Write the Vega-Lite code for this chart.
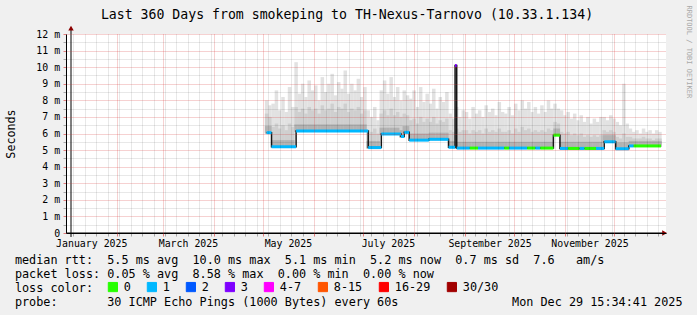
{
  "$schema": "https://vega.github.io/schema/vega-lite/v6.json",
  "width": 600,
  "height": 199,
  "autosize": "none",
  "padding": {"left": 66, "top": 34, "right": 31, "bottom": 82},
  "background": "#f0f0f0",
  "config": {"view": {"fill": "#ffffff", "stroke": null}, "font": "DejaVu Sans Mono", "axis": {"labelOverlap": false}},
  "title": {
    "text": "Last 360 Days from smokeping to TH-Nexus-Tarnovo (10.33.1.134)",
    "font": "DejaVu Sans Mono", "fontSize": 13.2, "fontWeight": "normal", "color": "#000000",
    "anchor": "middle", "frame": "group", "dx": -19, "dy": 13.2, "baseline": "alphabetic", "offset": -13.7
  },
  "datasets": {
    "smoke": [
      {"d":"2025-05-03","lo":6.0,"dk":6.45,"hi":7.2,"mx":8.0},
      {"d":"2025-05-05","lo":6.0,"dk":6.45,"hi":7.0,"mx":7.7},
      {"d":"2025-05-07","lo":5.15,"dk":5.6,"hi":6.4,"mx":7.8},
      {"d":"2025-05-09","lo":5.15,"dk":5.6,"hi":6.6,"mx":8.6},
      {"d":"2025-05-11","lo":5.15,"dk":5.6,"hi":6.3,"mx":7.4},
      {"d":"2025-05-13","lo":5.15,"dk":5.6,"hi":6.5,"mx":8.2},
      {"d":"2025-05-15","lo":5.15,"dk":5.6,"hi":6.2,"mx":7.3},
      {"d":"2025-05-17","lo":5.15,"dk":5.6,"hi":6.6,"mx":8.8},
      {"d":"2025-05-19","lo":5.15,"dk":5.6,"hi":6.4,"mx":7.6},
      {"d":"2025-05-21","lo":6.1,"dk":6.55,"hi":7.6,"mx":10.3},
      {"d":"2025-05-23","lo":6.1,"dk":6.55,"hi":7.3,"mx":8.4},
      {"d":"2025-05-25","lo":6.1,"dk":6.55,"hi":7.5,"mx":9.0},
      {"d":"2025-05-27","lo":6.1,"dk":6.55,"hi":7.2,"mx":8.2},
      {"d":"2025-05-29","lo":6.1,"dk":6.55,"hi":7.6,"mx":9.2},
      {"d":"2025-05-31","lo":6.1,"dk":6.55,"hi":7.4,"mx":8.6},
      {"d":"2025-06-02","lo":6.1,"dk":6.55,"hi":7.5,"mx":8.9},
      {"d":"2025-06-04","lo":6.1,"dk":6.55,"hi":7.2,"mx":8.0},
      {"d":"2025-06-06","lo":6.1,"dk":6.55,"hi":7.7,"mx":9.4},
      {"d":"2025-06-08","lo":6.1,"dk":6.55,"hi":7.4,"mx":8.5},
      {"d":"2025-06-10","lo":6.1,"dk":6.55,"hi":7.5,"mx":9.0},
      {"d":"2025-06-12","lo":6.1,"dk":6.55,"hi":7.8,"mx":9.6},
      {"d":"2025-06-14","lo":6.1,"dk":6.55,"hi":7.3,"mx":8.3},
      {"d":"2025-06-16","lo":6.1,"dk":6.55,"hi":7.6,"mx":9.1},
      {"d":"2025-06-18","lo":6.1,"dk":6.55,"hi":7.5,"mx":8.7},
      {"d":"2025-06-20","lo":6.1,"dk":6.55,"hi":7.8,"mx":9.8},
      {"d":"2025-06-22","lo":6.1,"dk":6.55,"hi":7.3,"mx":8.4},
      {"d":"2025-06-24","lo":6.1,"dk":6.55,"hi":7.5,"mx":9.0},
      {"d":"2025-06-26","lo":6.1,"dk":6.55,"hi":7.4,"mx":8.6},
      {"d":"2025-06-28","lo":6.1,"dk":6.55,"hi":7.6,"mx":9.3},
      {"d":"2025-06-30","lo":6.1,"dk":6.55,"hi":7.2,"mx":8.2},
      {"d":"2025-07-02","lo":6.1,"dk":6.55,"hi":7.4,"mx":8.8},
      {"d":"2025-07-04","lo":5.1,"dk":5.55,"hi":6.2,"mx":7.4},
      {"d":"2025-07-06","lo":5.1,"dk":5.55,"hi":6.1,"mx":7.0},
      {"d":"2025-07-08","lo":5.1,"dk":5.55,"hi":6.3,"mx":7.6},
      {"d":"2025-07-10","lo":5.1,"dk":5.55,"hi":6.0,"mx":6.8},
      {"d":"2025-07-12","lo":5.92,"dk":6.35,"hi":7.2,"mx":8.6},
      {"d":"2025-07-14","lo":5.92,"dk":6.35,"hi":7.4,"mx":9.2},
      {"d":"2025-07-16","lo":5.92,"dk":6.35,"hi":7.1,"mx":8.4},
      {"d":"2025-07-18","lo":5.92,"dk":6.35,"hi":7.5,"mx":9.4},
      {"d":"2025-07-20","lo":5.92,"dk":6.35,"hi":7.1,"mx":8.2},
      {"d":"2025-07-22","lo":5.92,"dk":6.35,"hi":7.3,"mx":8.8},
      {"d":"2025-07-24","lo":5.77,"dk":6.2,"hi":7.0,"mx":8.0},
      {"d":"2025-07-26","lo":6.02,"dk":6.45,"hi":7.2,"mx":8.6},
      {"d":"2025-07-28","lo":6.02,"dk":6.45,"hi":7.1,"mx":8.3},
      {"d":"2025-07-30","lo":5.55,"dk":6.0,"hi":6.8,"mx":8.1},
      {"d":"2025-08-01","lo":5.55,"dk":6.0,"hi":6.9,"mx":8.6},
      {"d":"2025-08-03","lo":5.55,"dk":6.0,"hi":6.6,"mx":7.6},
      {"d":"2025-08-05","lo":5.55,"dk":6.0,"hi":7.0,"mx":8.8},
      {"d":"2025-08-07","lo":5.55,"dk":6.0,"hi":6.7,"mx":7.9},
      {"d":"2025-08-09","lo":5.55,"dk":6.0,"hi":6.9,"mx":8.4},
      {"d":"2025-08-11","lo":5.6,"dk":6.05,"hi":6.7,"mx":7.8},
      {"d":"2025-08-13","lo":5.6,"dk":6.05,"hi":7.0,"mx":8.7},
      {"d":"2025-08-15","lo":5.6,"dk":6.05,"hi":6.6,"mx":7.5},
      {"d":"2025-08-17","lo":5.6,"dk":6.05,"hi":6.8,"mx":8.2},
      {"d":"2025-08-19","lo":5.6,"dk":6.05,"hi":6.7,"mx":7.9},
      {"d":"2025-08-21","lo":5.6,"dk":6.05,"hi":6.9,"mx":8.5},
      {"d":"2025-08-23","lo":5.12,"dk":5.55,"hi":6.2,"mx":7.2},
      {"d":"2025-08-25","lo":5.12,"dk":5.55,"hi":6.1,"mx":6.9},
      {"d":"2025-08-27","lo":5.07,"dk":5.5,"hi":6.3,"mx":7.6},
      {"d":"2025-08-29","lo":5.07,"dk":5.5,"hi":6.1,"mx":7.0},
      {"d":"2025-08-31","lo":5.07,"dk":5.5,"hi":6.2,"mx":7.4},
      {"d":"2025-09-02","lo":5.07,"dk":5.5,"hi":6.2,"mx":7.3},
      {"d":"2025-09-04","lo":5.07,"dk":5.5,"hi":6.0,"mx":6.9},
      {"d":"2025-09-06","lo":5.07,"dk":5.5,"hi":6.2,"mx":7.6},
      {"d":"2025-09-08","lo":5.07,"dk":5.5,"hi":6.1,"mx":7.2},
      {"d":"2025-09-10","lo":5.07,"dk":5.5,"hi":6.2,"mx":7.4},
      {"d":"2025-09-12","lo":5.07,"dk":5.5,"hi":6.0,"mx":7.0},
      {"d":"2025-09-14","lo":5.07,"dk":5.5,"hi":6.3,"mx":7.7},
      {"d":"2025-09-16","lo":5.07,"dk":5.5,"hi":6.1,"mx":7.3},
      {"d":"2025-09-18","lo":5.07,"dk":5.5,"hi":6.2,"mx":7.5},
      {"d":"2025-09-20","lo":5.07,"dk":5.5,"hi":6.1,"mx":7.1},
      {"d":"2025-09-22","lo":5.07,"dk":5.5,"hi":6.3,"mx":7.9},
      {"d":"2025-09-24","lo":5.07,"dk":5.5,"hi":6.1,"mx":7.3},
      {"d":"2025-09-26","lo":5.07,"dk":5.5,"hi":6.1,"mx":7.2},
      {"d":"2025-09-28","lo":5.07,"dk":5.5,"hi":6.2,"mx":7.6},
      {"d":"2025-09-30","lo":5.07,"dk":5.5,"hi":6.0,"mx":7.1},
      {"d":"2025-10-02","lo":5.07,"dk":5.5,"hi":6.3,"mx":7.8},
      {"d":"2025-10-04","lo":5.07,"dk":5.5,"hi":6.1,"mx":7.4},
      {"d":"2025-10-06","lo":5.07,"dk":5.5,"hi":6.4,"mx":8.0},
      {"d":"2025-10-08","lo":5.07,"dk":5.5,"hi":6.2,"mx":7.5},
      {"d":"2025-10-10","lo":5.07,"dk":5.5,"hi":6.3,"mx":7.9},
      {"d":"2025-10-12","lo":5.07,"dk":5.5,"hi":6.1,"mx":7.3},
      {"d":"2025-10-14","lo":5.07,"dk":5.5,"hi":6.2,"mx":7.6},
      {"d":"2025-10-16","lo":5.07,"dk":5.5,"hi":6.1,"mx":7.2},
      {"d":"2025-10-18","lo":5.07,"dk":5.5,"hi":6.2,"mx":7.7},
      {"d":"2025-10-20","lo":5.07,"dk":5.5,"hi":6.1,"mx":7.3},
      {"d":"2025-10-22","lo":5.07,"dk":5.5,"hi":6.3,"mx":8.0},
      {"d":"2025-10-24","lo":5.07,"dk":5.5,"hi":6.2,"mx":7.5},
      {"d":"2025-10-26","lo":5.85,"dk":6.3,"hi":6.7,"mx":7.8},
      {"d":"2025-10-28","lo":5.85,"dk":6.3,"hi":6.6,"mx":7.5},
      {"d":"2025-10-30","lo":5.05,"dk":5.5,"hi":6.1,"mx":7.4},
      {"d":"2025-11-01","lo":5.05,"dk":5.5,"hi":6.0,"mx":7.1},
      {"d":"2025-11-03","lo":5.05,"dk":5.5,"hi":6.1,"mx":7.3},
      {"d":"2025-11-05","lo":5.05,"dk":5.5,"hi":5.9,"mx":6.9},
      {"d":"2025-11-07","lo":5.05,"dk":5.5,"hi":6.0,"mx":7.2},
      {"d":"2025-11-09","lo":5.05,"dk":5.5,"hi":5.9,"mx":6.8},
      {"d":"2025-11-11","lo":5.05,"dk":5.5,"hi":6.0,"mx":7.1},
      {"d":"2025-11-13","lo":5.05,"dk":5.5,"hi":5.8,"mx":6.7},
      {"d":"2025-11-15","lo":5.05,"dk":5.5,"hi":5.9,"mx":7.0},
      {"d":"2025-11-17","lo":5.05,"dk":5.5,"hi":5.8,"mx":6.6},
      {"d":"2025-11-19","lo":5.05,"dk":5.5,"hi":5.9,"mx":6.9},
      {"d":"2025-11-21","lo":5.05,"dk":5.5,"hi":5.8,"mx":6.7},
      {"d":"2025-11-23","lo":5.05,"dk":5.5,"hi":5.9,"mx":7.0},
      {"d":"2025-11-25","lo":5.45,"dk":5.9,"hi":6.2,"mx":7.0},
      {"d":"2025-11-27","lo":5.45,"dk":5.9,"hi":6.1,"mx":6.8},
      {"d":"2025-11-29","lo":5.45,"dk":5.9,"hi":6.2,"mx":7.1},
      {"d":"2025-12-01","lo":5.45,"dk":5.9,"hi":6.1,"mx":6.9},
      {"d":"2025-12-03","lo":5.03,"dk":5.45,"hi":5.8,"mx":6.7},
      {"d":"2025-12-05","lo":5.03,"dk":5.45,"hi":5.7,"mx":6.5},
      {"d":"2025-12-07","lo":5.03,"dk":5.45,"hi":6.0,"mx":9.0},
      {"d":"2025-12-09","lo":5.03,"dk":5.45,"hi":5.8,"mx":6.6},
      {"d":"2025-12-11","lo":5.2,"dk":5.55,"hi":5.8,"mx":6.3},
      {"d":"2025-12-13","lo":5.2,"dk":5.55,"hi":5.7,"mx":6.1},
      {"d":"2025-12-15","lo":5.2,"dk":5.55,"hi":5.7,"mx":6.2},
      {"d":"2025-12-17","lo":5.2,"dk":5.55,"hi":5.7,"mx":6.0},
      {"d":"2025-12-19","lo":5.2,"dk":5.55,"hi":5.8,"mx":6.3},
      {"d":"2025-12-21","lo":5.2,"dk":5.55,"hi":5.7,"mx":6.1},
      {"d":"2025-12-23","lo":5.2,"dk":5.55,"hi":5.7,"mx":6.2},
      {"d":"2025-12-25","lo":5.2,"dk":5.55,"hi":5.6,"mx":6.0},
      {"d":"2025-12-27","lo":5.2,"dk":5.55,"hi":5.7,"mx":6.2},
      {"d":"2025-12-29","lo":5.2,"dk":5.55,"hi":5.7,"mx":6.1}
    ],
    "segs": [
      {"d":"2025-05-03","e":"2025-05-06","m":6.05,"loss":"1"},
      {"d":"2025-05-06","e":"2025-05-21","m":5.2,"loss":"1"},
      {"d":"2025-05-21","e":"2025-07-04","m":6.15,"loss":"1"},
      {"d":"2025-07-04","e":"2025-07-12","m":5.15,"loss":"1"},
      {"d":"2025-07-12","e":"2025-07-24","m":5.97,"loss":"1"},
      {"d":"2025-07-24","e":"2025-07-26","m":5.82,"loss":"1"},
      {"d":"2025-07-26","e":"2025-07-29","m":6.07,"loss":"1"},
      {"d":"2025-07-29","e":"2025-08-10","m":5.6,"loss":"1"},
      {"d":"2025-08-10","e":"2025-08-22","m":5.65,"loss":"1"},
      {"d":"2025-08-22","e":"2025-08-26","m":5.17,"loss":"1"},
      {"d":"2025-08-26","e":"2025-08-27","m":10.1,"loss":"3"},
      {"d":"2025-08-27","e":"2025-09-04","m":5.12,"loss":"1"},
      {"d":"2025-09-04","e":"2025-09-09","m":5.12,"loss":"0"},
      {"d":"2025-09-09","e":"2025-09-25","m":5.12,"loss":"1"},
      {"d":"2025-09-25","e":"2025-09-28","m":5.12,"loss":"0"},
      {"d":"2025-09-28","e":"2025-10-09","m":5.12,"loss":"1"},
      {"d":"2025-10-09","e":"2025-10-14","m":5.12,"loss":"0"},
      {"d":"2025-10-14","e":"2025-10-17","m":5.12,"loss":"1"},
      {"d":"2025-10-17","e":"2025-10-25","m":5.12,"loss":"0"},
      {"d":"2025-10-25","e":"2025-10-29","m":5.9,"loss":"0"},
      {"d":"2025-10-29","e":"2025-11-03","m":5.1,"loss":"1"},
      {"d":"2025-11-03","e":"2025-11-10","m":5.1,"loss":"0"},
      {"d":"2025-11-10","e":"2025-11-13","m":5.1,"loss":"1"},
      {"d":"2025-11-13","e":"2025-11-20","m":5.1,"loss":"0"},
      {"d":"2025-11-20","e":"2025-11-25","m":5.1,"loss":"1"},
      {"d":"2025-11-25","e":"2025-12-02","m":5.5,"loss":"1"},
      {"d":"2025-12-02","e":"2025-12-10","m":5.08,"loss":"1"},
      {"d":"2025-12-10","e":"2025-12-13","m":5.25,"loss":"1"},
      {"d":"2025-12-13","e":"2025-12-29T15:34:41Z","m":5.25,"loss":"0"}
    ]
  },
  "resolve": {"axis": {"x": "independent", "y": "independent"}},
  "layer": [
    {
      "data": {"name": "smoke"},
      "mark": {"type": "bar", "width": 3.5, "color": "#e2e2e2"},
      "encoding": {
        "x": {
          "field": "d", "type": "temporal",
          "scale": {"type": "utc", "domain": [
            {"year":2025,"month":1,"date":3,"hours":15,"minutes":34,"seconds":41,"utc":true},
            {"year":2025,"month":12,"date":29,"hours":15,"minutes":34,"seconds":41,"utc":true}
          ]},
          "axis": {
            "orient": "bottom", "zindex": 1,
            "values": [
              {"year":2025,"month":1,"date":16,"utc":true},
              {"year":2025,"month":3,"date":16,"utc":true},
              {"year":2025,"month":5,"date":16,"utc":true},
              {"year":2025,"month":7,"date":16,"utc":true},
              {"year":2025,"month":9,"date":16,"utc":true},
              {"year":2025,"month":11,"date":16,"utc":true}
            ],
            "labelExpr": "utcFormat(datum.value, '%B %Y')",
            "labelFont": "DejaVu Sans Mono", "labelFontSize": 9.9, "labelColor": "#000000",
            "labelPadding": 5, "labelFlush": false, "labelOverlap": false, "labelBound": false, "labelAngle": 0,
            "grid": false, "ticks": false,
            "domainColor": "#000000", "domainWidth": 1,
            "title": [
              "median rtt:\u00a0\u00a05.5\u00a0ms\u00a0avg\u00a0\u00a010.0\u00a0ms\u00a0max\u00a0\u00a05.1\u00a0ms\u00a0min\u00a0\u00a05.2\u00a0ms\u00a0now\u00a0\u00a00.7\u00a0ms\u00a0sd\u00a0\u00a07.6\u00a0\u00a0\u00a0am/s",
              "packet\u00a0loss:\u00a00.05\u00a0%\u00a0avg\u00a0\u00a08.58\u00a0%\u00a0max\u00a0\u00a00.00\u00a0%\u00a0min\u00a0\u00a00.00\u00a0%\u00a0now",
              "loss\u00a0color:",
              "probe:\u00a0\u00a0\u00a0\u00a0\u00a0\u00a0\u00a030\u00a0ICMP\u00a0Echo\u00a0Pings\u00a0(1000\u00a0Bytes)\u00a0every\u00a060s\u00a0\u00a0\u00a0\u00a0\u00a0\u00a0\u00a0\u00a0\u00a0\u00a0\u00a0\u00a0\u00a0\u00a0\u00a0\u00a0Mon\u00a0Dec\u00a029\u00a015:34:41\u00a02025"
            ],
            "titleFont": "DejaVu Sans Mono", "titleFontSize": 11.8, "titleFontWeight": "normal", "titleColor": "#000000",
            "titleX": -51.6, "titleY": 30, "titleAlign": "left", "titleBaseline": "alphabetic", "titleLineHeight": 14, "titleLimit": 1000
          }
        },
        "y": {
          "field": "lo", "type": "quantitative",
          "scale": {"domain": [0, 12], "nice": false, "zero": true},
          "axis": {
            "zindex": 1,
            "values": [0,0.5,1,1.5,2,2.5,3,3.5,4,4.5,5,5.5,6,6.5,7,7.5,8,8.5,9,9.5,10,10.5,11,11.5,12],
            "labelExpr": "datum.value % 1 !== 0 ? '' : datum.value === 0 ? '0\u00a0\u00a0' : datum.value + '\u00a0m'",
            "labelFont": "DejaVu Sans Mono", "labelFontSize": 9.9, "labelColor": "#000000", "labelPadding": 3.4,
            "labelOverlap": false, "labelBound": false, "labelFlush": false,
            "grid": true,
            "gridColor": {"condition": {"test": "datum.value % 1 === 0", "value": "rgba(215,50,50,0.45)"}, "value": "rgba(0,0,0,0.18)"},
            "gridDash": [1, 1],
            "tickColor": {"condition": {"test": "datum.value % 1 === 0", "value": "rgba(215,50,50,0.6)"}, "value": "rgba(0,0,0,0.3)"},
            "tickSize": 3,
            "domainColor": "#000000", "domainWidth": 1,
            "title": "Seconds",
            "titleFont": "DejaVu Sans Mono", "titleFontSize": 11.7, "titleFontWeight": "normal", "titleColor": "#000000",
            "titleX": -55.7, "titleY": 99.5, "titleAngle": -90, "titleAlign": "center", "titleBaseline": "middle"
          }
        },
        "y2": {"field": "mx"}
      }
    },
    {
      "data": {"name": "smoke"},
      "mark": {"type": "bar", "width": 3.5, "color": "#cfcfcf"},
      "encoding": {
        "x": {
          "field": "d", "type": "temporal",
          "axis": {
            "orient": "bottom", "zindex": 1, "labels": false, "domain": false, "title": null,
            "values": [
              {"year":2025,"month":1,"date":5,"utc":true},{"year":2025,"month":1,"date":12,"utc":true},{"year":2025,"month":1,"date":19,"utc":true},{"year":2025,"month":1,"date":26,"utc":true},
              {"year":2025,"month":2,"date":1,"utc":true},{"year":2025,"month":2,"date":2,"utc":true},{"year":2025,"month":2,"date":9,"utc":true},{"year":2025,"month":2,"date":16,"utc":true},{"year":2025,"month":2,"date":23,"utc":true},
              {"year":2025,"month":3,"date":1,"utc":true},{"year":2025,"month":3,"date":2,"utc":true},{"year":2025,"month":3,"date":9,"utc":true},{"year":2025,"month":3,"date":16,"utc":true},{"year":2025,"month":3,"date":23,"utc":true},{"year":2025,"month":3,"date":30,"utc":true},
              {"year":2025,"month":4,"date":1,"utc":true},{"year":2025,"month":4,"date":6,"utc":true},{"year":2025,"month":4,"date":13,"utc":true},{"year":2025,"month":4,"date":20,"utc":true},{"year":2025,"month":4,"date":27,"utc":true},
              {"year":2025,"month":5,"date":1,"utc":true},{"year":2025,"month":5,"date":4,"utc":true},{"year":2025,"month":5,"date":11,"utc":true},{"year":2025,"month":5,"date":18,"utc":true},{"year":2025,"month":5,"date":25,"utc":true},
              {"year":2025,"month":6,"date":1,"utc":true},{"year":2025,"month":6,"date":8,"utc":true},{"year":2025,"month":6,"date":15,"utc":true},{"year":2025,"month":6,"date":22,"utc":true},{"year":2025,"month":6,"date":29,"utc":true},
              {"year":2025,"month":7,"date":1,"utc":true},{"year":2025,"month":7,"date":6,"utc":true},{"year":2025,"month":7,"date":13,"utc":true},{"year":2025,"month":7,"date":20,"utc":true},{"year":2025,"month":7,"date":27,"utc":true},
              {"year":2025,"month":8,"date":1,"utc":true},{"year":2025,"month":8,"date":3,"utc":true},{"year":2025,"month":8,"date":10,"utc":true},{"year":2025,"month":8,"date":17,"utc":true},{"year":2025,"month":8,"date":24,"utc":true},{"year":2025,"month":8,"date":31,"utc":true},
              {"year":2025,"month":9,"date":1,"utc":true},{"year":2025,"month":9,"date":7,"utc":true},{"year":2025,"month":9,"date":14,"utc":true},{"year":2025,"month":9,"date":21,"utc":true},{"year":2025,"month":9,"date":28,"utc":true},
              {"year":2025,"month":10,"date":1,"utc":true},{"year":2025,"month":10,"date":5,"utc":true},{"year":2025,"month":10,"date":12,"utc":true},{"year":2025,"month":10,"date":19,"utc":true},{"year":2025,"month":10,"date":26,"utc":true},
              {"year":2025,"month":11,"date":1,"utc":true},{"year":2025,"month":11,"date":2,"utc":true},{"year":2025,"month":11,"date":9,"utc":true},{"year":2025,"month":11,"date":16,"utc":true},{"year":2025,"month":11,"date":23,"utc":true},{"year":2025,"month":11,"date":30,"utc":true},
              {"year":2025,"month":12,"date":1,"utc":true},{"year":2025,"month":12,"date":7,"utc":true},{"year":2025,"month":12,"date":14,"utc":true},{"year":2025,"month":12,"date":21,"utc":true},{"year":2025,"month":12,"date":28,"utc":true}
            ],
            "grid": true,
            "gridColor": {"condition": {"test": "utcdate(datum.value) === 1", "value": "rgba(215,50,50,0.45)"}, "value": "rgba(0,0,0,0.18)"},
            "gridDash": [1, 1],
            "tickColor": {"condition": {"test": "utcdate(datum.value) === 1", "value": "rgba(215,50,50,0.6)"}, "value": "rgba(0,0,0,0.3)"},
            "tickSize": 3
          }
        },
        "y": {"field": "lo", "type": "quantitative", "axis": null},
        "y2": {"field": "hi"}
      }
    },
    {
      "data": {"name": "smoke"},
      "mark": {"type": "bar", "width": 3.5, "color": "#b2b2b2"},
      "encoding": {
        "x": {"field": "d", "type": "temporal", "axis": null},
        "y": {"field": "lo", "type": "quantitative", "axis": null},
        "y2": {"field": "dk"}
      }
    },
    {
      "data": {"name": "segs"},
      "mark": {"type": "line", "interpolate": "step-after", "color": "#151515", "strokeWidth": 1.5},
      "encoding": {
        "x": {"field": "d", "type": "temporal", "axis": null},
        "y": {
          "field": "m", "type": "quantitative",
          "axis": {
            "orient": "right", "labels": false, "ticks": false, "domain": false, "grid": false,
            "title": "RRDTOOL / TOBI OETIKER",
            "titleFont": "DejaVu Sans Mono", "titleFontSize": 7, "titleFontWeight": "normal", "titleColor": "#a8a8a8",
            "titleAngle": 90, "titleX": 22.5, "titleY": -29, "titleAlign": "left", "titleBaseline": "middle"
          }
        }
      }
    },
    {
      "data": {"name": "segs"},
      "mark": {"type": "rule", "strokeWidth": 3, "strokeCap": "butt"},
      "encoding": {
        "x": {"field": "d", "type": "temporal", "axis": null},
        "x2": {"field": "e"},
        "y": {"field": "m", "type": "quantitative", "axis": null},
        "color": {
          "field": "loss", "type": "nominal",
          "scale": {
            "domain": ["0", "1", "2", "3", "4-7", "8-15", "16-29", "30/30"],
            "range": ["#26ff00", "#00b8ff", "#0059ff", "#7e00ff", "#ff00ff", "#ff5500", "#ff0000", "#a10000"]
          },
          "legend": {
            "orient": "none", "legendX": 41, "legendY": 247, "direction": "horizontal", "title": null,
            "symbolType": "square", "symbolSize": 85, "symbolStrokeColor": "#000000", "symbolStrokeWidth": 1,
            "labelFont": "DejaVu Sans Mono", "labelFontSize": 11.8, "labelColor": "#000000", "labelOffset": 5,
            "columnPadding": 14, "padding": 0, "labelLimit": 300,
            "encode": {
              "symbols": {"update": {"fill": {"scale": "color", "field": "value"}, "stroke": {"value": "#000000"}, "strokeWidth": {"value": 1}, "opacity": {"value": 1}, "fillOpacity": {"value": 1}}}
            }
          }
        }
      }
    },
    {
      "data": {"values": [{}]},
      "mark": {"type": "rule", "color": "#000000", "strokeWidth": 1},
      "encoding": {
        "x": {"datum": {"year":2025,"month":1,"date":1,"hours":6,"utc":true}, "type": "temporal", "axis": null},
        "x2": {"datum": {"year":2025,"month":12,"date":31,"hours":10,"utc":true}},
        "y": {"datum": 0, "type": "quantitative", "axis": null}
      }
    },
    {
      "data": {"values": [{}]},
      "mark": {"type": "rule", "color": "#000000", "strokeWidth": 1},
      "encoding": {
        "x": {"datum": {"year":2025,"month":1,"date":3,"hours":15,"minutes":34,"seconds":41,"utc":true}, "type": "temporal", "axis": null},
        "y": {"datum": -0.24, "type": "quantitative", "axis": null},
        "y2": {"datum": 12.24}
      }
    },
    {
      "data": {"values": [{}]},
      "mark": {"type": "point", "shape": "triangle-right", "filled": true, "size": 30, "color": "#8b0000", "opacity": 1},
      "encoding": {
        "x": {"datum": {"year":2025,"month":12,"date":31,"hours":20,"utc":true}, "type": "temporal", "axis": null},
        "y": {"datum": 0, "type": "quantitative", "axis": null}
      }
    },
    {
      "data": {"values": [{}]},
      "mark": {"type": "point", "shape": "triangle-up", "filled": true, "size": 30, "color": "#8b0000", "opacity": 1},
      "encoding": {
        "x": {"datum": {"year":2025,"month":1,"date":3,"hours":15,"minutes":34,"seconds":41,"utc":true}, "type": "temporal", "axis": null},
        "y": {"datum": 12.36, "type": "quantitative", "axis": null}
      }
    }
  ]
}
